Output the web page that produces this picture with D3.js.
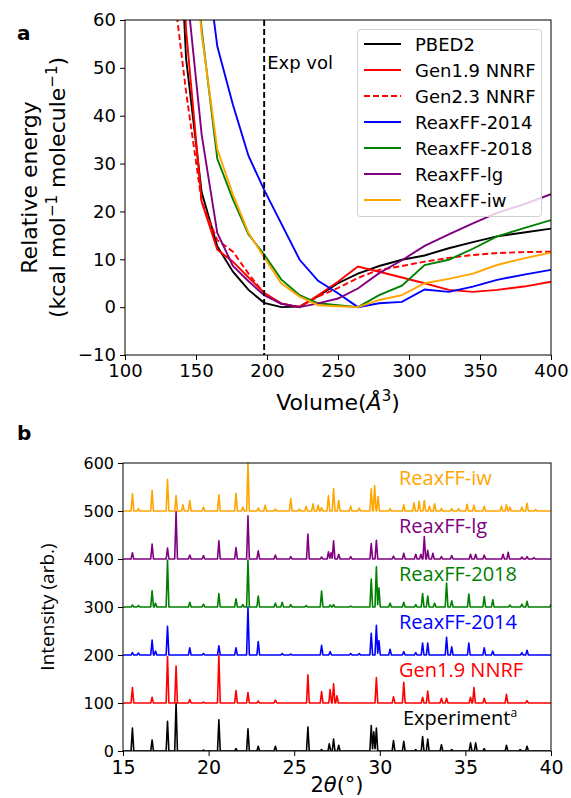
<!DOCTYPE html>
<html>
<head>
<meta charset="utf-8">
<script src="https://cdn.jsdelivr.net/npm/d3@7"></script>
<style>
  body { margin: 0; background: #fff; }
  svg text { font-family: "DejaVu Sans", sans-serif; }
</style>
</head>
<body>
<div id="chart"></div>
<script>
// ---- panel a: energy vs volume ----
const volumes   = [132, 143, 154, 165, 176, 187, 198, 210, 223, 236, 250, 264, 279, 295, 311, 328, 345, 362, 381, 400];
const ePBED2    = [120, 52, 24, 12.7, 7.4, 3.6, 0.9, 0, 0.1, 2.3, 5, 7, 8.6, 9.9, 10.8, 12.3, 13.6, 14.8, 15.6, 16.4];
const eGen19    = [130, 58, 22, 12, 9.5, 6.2, 3, 0.8, 0, 2.5, 5.3, 8.5, 7.4, 6.2, 5, 3.6, 3.2, 3.6, 4.3, 5.3];
const eGen23    = [72, 45, 22, 14, 11.6, 7, 2.8, 0.7, 0.1, 2.2, 4, 6.1, 7.8, 8.6, 9.5, 10.3, 10.9, 11.3, 11.5, 11.6];
const eReax2014 = [150, 110, 80, 54.5, 42.3, 31.6, 24.5, 17.5, 9.9, 5.5, 2.9, 0, 0.8, 1.1, 3.7, 3.2, 4.3, 5.7, 6.8, 7.8];
const eReax2018 = [200, 95, 58, 31, 22.5, 15.2, 11, 5.8, 2.5, 0.8, 0.4, 0, 2.5, 4.5, 8.8, 9.9, 12.2, 14.8, 16.5, 18.2];
const eReaxLg   = [200, 68, 36, 15.5, 8.6, 5.4, 2.5, 0.7, 0, 0.8, 1.8, 3.9, 7.1, 9.8, 12.8, 15.2, 17.5, 19.7, 21.5, 23.6];
const eReaxIw   = [200, 95, 57, 33, 23.5, 15.5, 10.4, 5, 2.2, 0.4, 0.2, 0, 1.5, 2.5, 5, 5.9, 7, 8.8, 10.2, 11.4];
const expVol = 198;

const seriesA = [
  { name: "PBED2",       values: ePBED2,    color: "#000000", dash: null },
  { name: "Gen1.9 NNRF", values: eGen19,    color: "#ff0000", dash: null },
  { name: "Gen2.3 NNRF", values: eGen23,    color: "#ff0000", dash: "6,3" },
  { name: "ReaxFF-2014", values: eReax2014, color: "#0000ff", dash: null },
  { name: "ReaxFF-2018", values: eReax2018, color: "#008000", dash: null },
  { name: "ReaxFF-lg",   values: eReaxLg,   color: "#800080", dash: null },
  { name: "ReaxFF-iw",   values: eReaxIw,   color: "#ffa500", dash: null }
];

// ---- panel b: XRD patterns, [2theta, height] ----
const peaksExp = [[15.55,48],[16.7,23],[17.6,62],[18.1,100],[19.7,2],[20.6,65],[21.6,5],[22.3,46],[22.9,10],[23.9,10],
  [25.8,50],[26.6,3],[27.05,15],[27.3,25],[27.6,12],[29.5,53],[29.65,40],[29.8,48],[30.8,22],[31.4,20],[32.1,3],
  [32.5,30],[32.8,25],[33.6,13],[34.2,3],[35.3,17],[35.6,17],[36.1,5],[37.4,12],[38.2,3],[38.6,10]];
const peaksGen19 = [[15.55,32],[16.7,12],[17.6,97],[18.1,77],[18.9,7],[19.7,2],[20.6,100],[21.6,26],[22.3,22],[22.9,4],
  [23.9,6],[25.8,59],[26.6,24],[27.1,28],[27.3,40],[27.5,15],[29.8,53],[30.8,13],[31.4,43],[32.5,12],[32.8,25],
  [33.6,10],[33.9,10],[35.3,12],[35.5,32],[36.1,10],[37.4,18],[38.6,5]];
const peaks2014 = [[15.55,5],[15.9,4],[16.7,31],[16.9,8],[17.6,60],[18.9,15],[19.7,3],[20.6,19],[21.6,15],[22.3,100],
  [22.9,28],[24.3,3],[24.8,2],[26.6,20],[27.1,7],[28.3,3],[28.8,3],[29.5,45],[29.8,62],[29.95,30],[30.6,12],[31.4,7],
  [32.1,5],[32.5,25],[32.8,25],[33.9,37],[34.2,17],[35.2,25],[36.1,15],[36.6,8],[38.3,5],[38.6,10]];
const peaks2018 = [[15.55,4],[15.9,3],[16.7,34],[16.9,8],[17.6,98],[18.9,10],[19.7,6],[20.6,28],[21.6,17],[22.0,5],
  [22.3,98],[22.9,23],[23.9,8],[24.3,10],[24.8,5],[25.7,3],[26.6,33],[27.1,4],[27.3,5],[28.3,2],[29.5,58],[29.8,84],
  [29.95,40],[30.6,8],[31.4,10],[32.1,5],[32.5,28],[32.8,23],[33.2,8],[33.9,50],[34.2,13],[35.2,27],[36.1,22],
  [36.6,15],[37.6,4],[38.3,6],[38.6,12],[40.0,5]];
const peaksLg = [[15.55,13],[16.7,31],[17.6,23],[18.1,99],[18.9,8],[19.7,7],[20.6,38],[21.6,24],[22.3,90],[22.9,17],
  [23.9,8],[24.8,5],[25.8,52],[26.6,4],[27.0,15],[27.15,13],[27.3,38],[27.6,10],[28.3,5],[29.5,32],[29.8,39],
  [30.8,6],[31.4,12],[32.1,10],[32.4,10],[32.6,47],[32.8,18],[33.1,12],[33.6,5],[34.2,7],[35.3,10],[35.6,10],
  [36.1,8],[37.2,10],[37.5,14],[38.3,4],[38.6,5],[39.0,3]];
const peaksIw = [[15.55,36],[15.9,5],[16.7,43],[17.6,66],[18.1,32],[18.5,13],[18.9,22],[19.7,8],[20.6,34],[21.6,37],
  [22.0,8],[22.3,100],[22.9,6],[23.3,12],[23.9,4],[24.8,26],[25.3,4],[25.7,10],[26.1,15],[26.4,12],[26.6,7],
  [27.0,32],[27.3,47],[27.6,22],[28.3,10],[28.8,6],[29.5,46],[29.7,53],[29.9,30],[30.6,5],[31.4,13],[32.0,17],
  [32.3,20],[32.6,22],[32.9,10],[33.2,15],[33.6,5],[34.2,5],[34.6,5],[35.1,14],[35.5,12],[36.1,10],[37.1,10],
  [37.4,13],[37.6,8],[38.3,8],[38.6,16],[39.1,3]];

const seriesB = [
  { label: "Experiment",  peaks: peaksExp,   offset: 0,   color: "#000000", sup: "a" },
  { label: "Gen1.9 NNRF", peaks: peaksGen19, offset: 100, color: "#ff0000" },
  { label: "ReaxFF-2014", peaks: peaks2014,  offset: 200, color: "#0000ff" },
  { label: "ReaxFF-2018", peaks: peaks2018,  offset: 300, color: "#008000" },
  { label: "ReaxFF-lg",   peaks: peaksLg,    offset: 400, color: "#800080" },
  { label: "ReaxFF-iw",   peaks: peaksIw,    offset: 500, color: "#ffa500" }
];

const W = 571, H = 798;
const svg = d3.select("#chart").append("svg").attr("width", W).attr("height", H);

// ================= panel a =================
const ma = { left: 125, right: 551, top: 20, bottom: 355 };
const xa = d3.scaleLinear().domain([100, 400]).range([ma.left, ma.right]);
const ya = d3.scaleLinear().domain([-10, 60]).range([ma.bottom, ma.top]);

svg.append("clipPath").attr("id", "clipA").append("rect")
  .attr("x", ma.left).attr("y", ma.top)
  .attr("width", ma.right - ma.left).attr("height", ma.bottom - ma.top);

const gA = svg.append("g");
const lineA = d3.line().x((d, i) => xa(volumes[i])).y(d => ya(d));

gA.append("g").attr("clip-path", "url(#clipA)")
  .selectAll("path").data(seriesA).enter().append("path")
  .attr("d", d => lineA(d.values))
  .attr("fill", "none")
  .attr("stroke", d => d.color)
  .attr("stroke-width", 1.9)
  .attr("stroke-dasharray", d => d.dash);

// experimental volume
gA.append("line")
  .attr("x1", xa(expVol)).attr("x2", xa(expVol))
  .attr("y1", ma.top).attr("y2", ma.bottom)
  .attr("stroke", "#000").attr("stroke-width", 1.9).attr("stroke-dasharray", "6,3");
gA.append("text").attr("x", xa(expVol) + 3).attr("y", 69)
  .style("font-size", "18px").text("Exp vol");

// axes
const axA_x = gA.append("g").attr("transform", `translate(0,${ma.bottom})`)
  .call(d3.axisBottom(xa).tickValues([100, 150, 200, 250, 300, 350, 400]).tickSize(5).tickPadding(4));
const axA_y = gA.append("g").attr("transform", `translate(${ma.left},0)`)
  .call(d3.axisLeft(ya).tickValues([-10, 0, 10, 20, 30, 40, 50, 60]).tickSize(5).tickPadding(4));
[axA_x, axA_y].forEach(a => {
  a.selectAll("text").style("font-size", "18px").style("font-family", "DejaVu Sans").attr("fill", "#000");
  a.select(".domain").remove();
  a.selectAll(".tick line").attr("stroke", "#000");
});
gA.append("rect").attr("x", ma.left).attr("y", ma.top)
  .attr("width", ma.right - ma.left).attr("height", ma.bottom - ma.top)
  .attr("fill", "none").attr("stroke", "#000").attr("stroke-width", 1);

// legend
const leg = gA.append("g");
leg.append("rect").attr("x", 357.5).attr("y", 29.5).attr("width", 184).attr("height", 187)
  .attr("rx", 3).attr("fill", "#fff").attr("fill-opacity", 0.8)
  .attr("stroke", "#d0d0d0");
const legRows = leg.selectAll("g.row").data(seriesA).enter().append("g")
  .attr("transform", (d, i) => `translate(0,${44 + i * 26})`);
legRows.append("line").attr("x1", 364).attr("x2", 401)
  .attr("stroke", d => d.color).attr("stroke-width", 1.9)
  .attr("stroke-dasharray", d => d.dash);
legRows.append("text").attr("x", 415).attr("y", 6.5)
  .style("font-size", "18px").text(d => d.name);

// labels
svg.append("text").attr("x", 17).attr("y", 40)
  .style("font-size", "20px").style("font-weight", "bold").text("a");
const yl = svg.append("text").attr("transform", `translate(37,${(ma.top + ma.bottom) / 2}) rotate(-90)`)
  .attr("text-anchor", "middle").style("font-size", "22px");
yl.append("tspan").attr("x", 0).attr("dy", 0).text("Relative energy");
const yl2 = svg.append("text").attr("transform", `translate(65,${(ma.top + ma.bottom) / 2}) rotate(-90)`)
  .attr("text-anchor", "middle").style("font-size", "22px");
yl2.append("tspan").text("(kcal mol");
yl2.append("tspan").attr("dy", -8).style("font-size", "15px").text("\u22121");
yl2.append("tspan").attr("dy", 8).text(" molecule");
yl2.append("tspan").attr("dy", -8).style("font-size", "15px").text("\u22121");
yl2.append("tspan").attr("dy", 8).text(")");

const xl = svg.append("text").attr("x", (ma.left + ma.right) / 2).attr("y", 410)
  .attr("text-anchor", "middle").style("font-size", "22px");
xl.append("tspan").text("Volume(");
xl.append("tspan").style("font-style", "italic").text("\u00c5");
xl.append("tspan").attr("dy", -9).style("font-size", "15px").text("3");
xl.append("tspan").attr("dy", 9).text(")");

// ================= panel b =================
const mb = { left: 123, right: 551, top: 463, bottom: 751 };
const xb = d3.scaleLinear().domain([15, 40]).range([mb.left, mb.right]);
const yb = d3.scaleLinear().domain([0, 600]).range([mb.bottom, mb.top]);

svg.append("clipPath").attr("id", "clipB").append("rect")
  .attr("x", mb.left).attr("y", mb.top - 2)
  .attr("width", mb.right - mb.left).attr("height", mb.bottom - mb.top + 2);

// each peak is drawn as a narrow triangle on the shifted baseline
const halfW = 0.08;
const grid = d3.range(1500, 4001).map(v => v / 100);
function profile(peaks) {
  return grid.map(t => {
    let s = 0;
    peaks.forEach(([p, h]) => {
      const k = 1 - Math.abs(t - p) / halfW;
      if (k > 0) s = Math.max(s, h * k);
    });
    return [t, s];
  });
}
const gB = svg.append("g");
const lineB = d3.line().x(d => xb(d[0])).y(d => yb(d[1]));
gB.append("g").attr("clip-path", "url(#clipB)")
  .selectAll("path").data(seriesB).enter().append("path")
  .attr("d", s => lineB(profile(s.peaks).map(([t, v]) => [t, v + s.offset])))
  .attr("fill", "none").attr("stroke", s => s.color).attr("stroke-width", 1.6)
  .attr("stroke-linejoin", "round");

const axB_x = gB.append("g").attr("transform", `translate(0,${mb.bottom})`)
  .call(d3.axisBottom(xb).tickValues([15, 20, 25, 30, 35, 40]).tickSize(5).tickPadding(5));
const axB_y = gB.append("g").attr("transform", `translate(${mb.left},0)`)
  .call(d3.axisLeft(yb).tickValues([0, 100, 200, 300, 400, 500, 600]).tickSize(5).tickPadding(4));
axB_x.selectAll("text").style("font-size", "19px");
axB_y.selectAll("text").style("font-size", "16px");
[axB_x, axB_y].forEach(a => {
  a.selectAll("text").style("font-family", "DejaVu Sans").attr("fill", "#000");
  a.select(".domain").remove();
  a.selectAll(".tick line").attr("stroke", "#000");
});
gB.append("rect").attr("x", mb.left).attr("y", mb.top)
  .attr("width", mb.right - mb.left).attr("height", mb.bottom - mb.top)
  .attr("fill", "none").attr("stroke", "#000").attr("stroke-width", 1);

// series labels
const labB = gB.selectAll("text.lab").data(seriesB).enter().append("text")
  .attr("class", "lab")
  .attr("x", d => d.sup ? 403 : 399)
  .attr("y", d => yb(d.offset) - 26)
  .attr("fill", d => d.sup ? "#000" : d.color)
  .style("font-family", "'Open Sans', sans-serif").style("font-size", "20px");
labB.append("tspan").text(d => d.label);
labB.filter(d => d.sup).append("tspan").attr("dy", -8).style("font-size", "12px").text(d => d.sup);

svg.append("text").attr("x", 17).attr("y", 440)
  .style("font-size", "20px").style("font-weight", "bold").text("b");
svg.append("text").attr("transform", `translate(54,${(mb.top + mb.bottom) / 2}) rotate(-90)`)
  .attr("text-anchor", "middle").style("font-family", "'Open Sans', sans-serif")
  .style("font-size", "19px").text("Intensity (arb.)");
const xlb = svg.append("text").attr("x", (mb.left + mb.right) / 2).attr("y", 792)
  .attr("text-anchor", "middle").style("font-size", "21px");
xlb.append("tspan").text("2");
xlb.append("tspan").style("font-style", "italic").text("\u03b8");
xlb.append("tspan").text("(\u00b0)");
</script>
</body>
</html>
